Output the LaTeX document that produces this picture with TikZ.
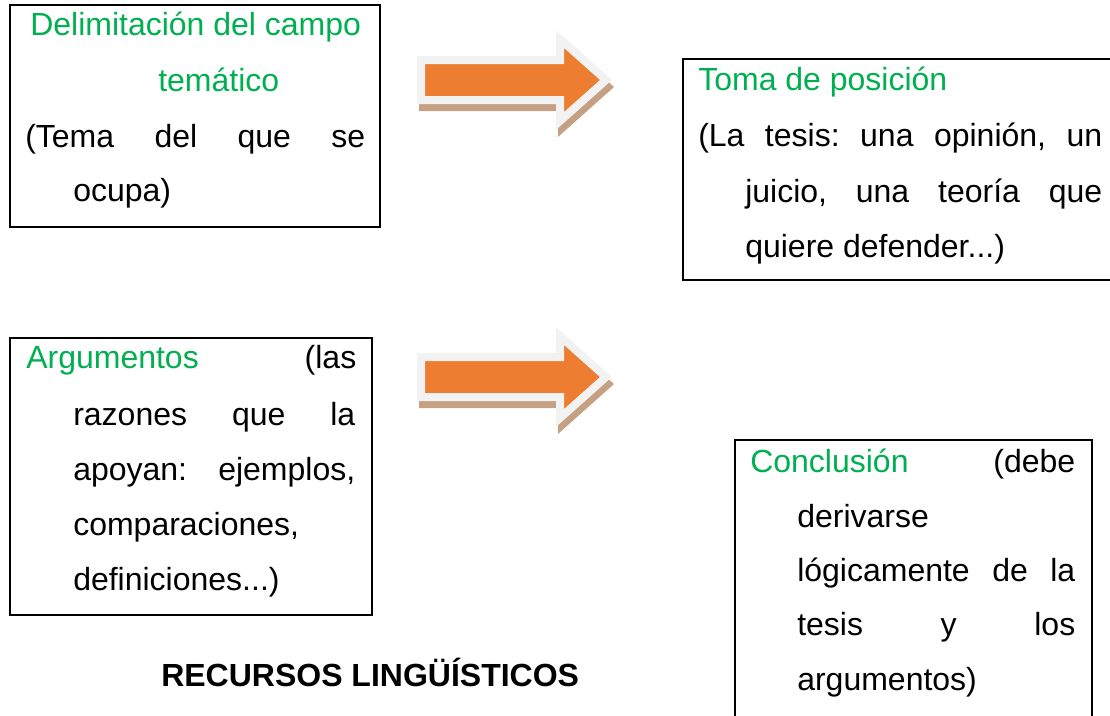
\documentclass[tikz,border=0pt]{standalone}
\usepackage{fontspec}
\setmainfont{Liberation Sans}
\usetikzlibrary{fit}
\definecolor{title_green}{RGB}{0,176,80}
\definecolor{arrow_orange}{RGB}{237,125,49}
\definecolor{arrow_rim}{RGB}{242,242,242}
\definecolor{arrow_shade}{RGB}{197,160,130}
\newdimen\px \px=0.75pt
\frenchspacing
% justified line of a given width (in px)
\newcommand{\jline}[2]{\makebox[#1\px][s]{#2}}

\begin{document}
\begin{tikzpicture}[x=0.75pt,y=-0.75pt]
    \tikzstyle{box}=[draw=black, line width=1.5pt, rectangle, inner sep=0pt]
    \tikzstyle{line}=[anchor=base west, inner sep=0pt, font=\fontsize{24}{29}\selectfont]
    \tikzstyle{head}=[style=line, text=title_green]

    \useasboundingbox (0,0) rectangle (1110,715);
    \clip (0,0) rectangle (1110,715);

    % block arrows
    \foreach \dy in {0,297} {
      \begin{scope}[shift={(0,\dy)}]
        \filldraw[arrow_shade, line width=6pt, line join=miter, shift={(2,7)}]
          (421,60) -- (560,60) -- (560,39) -- (606,80) -- (560,121) -- (560,100) -- (421,100) -- cycle;
        \filldraw[draw=arrow_rim, fill=arrow_orange, line width=6pt, line join=miter]
          (421,60) -- (560,60) -- (560,39) -- (606,80) -- (560,121) -- (560,100) -- (421,100) -- cycle;
      \end{scope}
    }

    % boxes
    \node[box, fit={(10,5) (380,227)}]    (campo) {};
    \node[box, fit={(683,59) (1130,280)}] (tesis) {};
    \node[box, fit={(10,338) (372,615)}]  (argum) {};
    \node[box, fit={(735,440) (1092,730)}] (concl) {};

    % campo tematico
    \node[head] (campo1) at (30,35)  {Delimitación del campo};
    \node[head] (campo2) at (158,91) {temático};
    \node[line] (campo3) at (25,147) {\jline{340}{(Tema del que se}};
    \node[line] (campo4) at (73,201) {ocupa)};

    % toma de posicion
    \node[head] (tesis1) at (698,90)  {Toma de posición};
    \node[line] (tesis2) at (698,146) {\jline{404}{(La tesis: una opinión, un}};
    \node[line] (tesis3) at (745,202) {\jline{357}{juicio, una teoría que}};
    \node[line] (tesis4) at (745,257) {quiere defender...)};

    % argumentos
    \node[line] (argum1) at (26,368) {\jline{330}{{\color{title_green}Argumentos} (las}};
    \node[line] (argum2) at (73,425) {\jline{282}{razones que la}};
    \node[line] (argum3) at (73,480) {\jline{282}{apoyan: ejemplos,}};
    \node[line] (argum4) at (73,535) {comparaciones,};
    \node[line] (argum5) at (73,590) {definiciones...)};

    % conclusion
    \node[line] (concl1) at (750,472) {\jline{325}{{\color{title_green}Conclusión} (debe}};
    \node[line] (concl2) at (797,527) {derivarse};
    \node[line] (concl3) at (797,581) {\jline{278}{lógicamente de la}};
    \node[line] (concl4) at (797,635) {\jline{278}{tesis y los}};
    \node[line] (concl5) at (797,690) {argumentos)};

    \node[line, font=\fontsize{24}{29}\selectfont\bfseries] (recursos) at (161,686) {RECURSOS LINGÜÍSTICOS};
\end{tikzpicture}
\end{document}
